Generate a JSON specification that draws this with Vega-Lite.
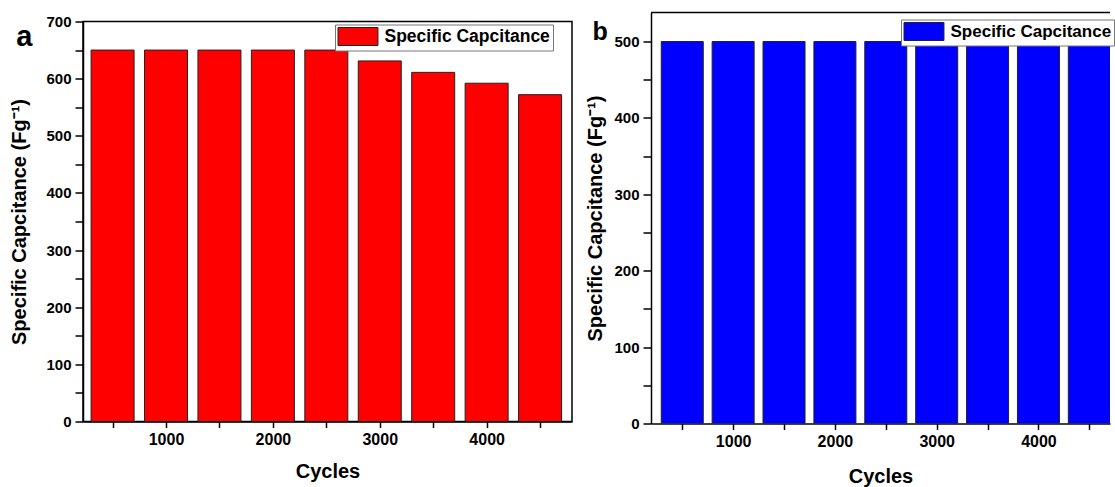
{
  "$schema": "https://vega.github.io/schema/vega-lite/v6.json",
  "background": "white",
  "padding": {"left": 9, "top": 11.5, "right": 0, "bottom": 0},
  "autosize": {"type": "pad"},
  "spacing": 12,
  "config": {
    "font": "Liberation Sans",
    "concat": {"spacing": 0},
    "view": {"stroke": "black", "strokeWidth": 1.5},
    "axis": {
      "grid": false,
      "domainColor": "black",
      "domainWidth": 1.5,
      "tickColor": "black",
      "tickWidth": 1.5,
      "labelColor": "black",
      "titleColor": "black",
      "labelFont": "Liberation Sans",
      "titleFont": "Liberation Sans",
      "labelFontWeight": "bold",
      "titleFontWeight": "bold",
      "format": "d"
    },
    "legend": {
      "title": null,
      "symbolType": "M-1,-1H3.44V1H-1Z",
      "symbolSize": 324,
      "symbolStrokeColor": "#222",
      "symbolStrokeWidth": 1,
      "labelOffset": 28,
      "labelLimit": 300,
      "labelFont": "Liberation Sans",
      "labelFontWeight": "bold",
      "labelColor": "black",
      "padding": 2.5,
      "strokeColor": "#777",
      "fillColor": "white"
    }
  },
  "datasets": {
    "a": [
      {"cycles": 500, "capacitance": 650, "series": "Specific Capcitance"},
      {"cycles": 1000, "capacitance": 650, "series": "Specific Capcitance"},
      {"cycles": 1500, "capacitance": 650, "series": "Specific Capcitance"},
      {"cycles": 2000, "capacitance": 650, "series": "Specific Capcitance"},
      {"cycles": 2500, "capacitance": 650, "series": "Specific Capcitance"},
      {"cycles": 3000, "capacitance": 631, "series": "Specific Capcitance"},
      {"cycles": 3500, "capacitance": 611, "series": "Specific Capcitance"},
      {"cycles": 4000, "capacitance": 592, "series": "Specific Capcitance"},
      {"cycles": 4500, "capacitance": 572, "series": "Specific Capcitance"}
    ],
    "b": [
      {"cycles": 500, "capacitance": 500, "series": "Specific Capcitance"},
      {"cycles": 1000, "capacitance": 500, "series": "Specific Capcitance"},
      {"cycles": 1500, "capacitance": 500, "series": "Specific Capcitance"},
      {"cycles": 2000, "capacitance": 500, "series": "Specific Capcitance"},
      {"cycles": 2500, "capacitance": 500, "series": "Specific Capcitance"},
      {"cycles": 3000, "capacitance": 499, "series": "Specific Capcitance"},
      {"cycles": 3500, "capacitance": 497, "series": "Specific Capcitance"},
      {"cycles": 4000, "capacitance": 496, "series": "Specific Capcitance"},
      {"cycles": 4500, "capacitance": 495, "series": "Specific Capcitance"}
    ],
    "panel": [{"label": "panel"}]
  },
  "hconcat": [
    {
      "spacing": 0,
      "resolve": {"scale": {"color": "independent"}, "legend": {"color": "independent"}},
      "vconcat": [
        {
          "width": 489,
          "height": 1,
          "data": {"values": []},
          "mark": {"type": "rule", "opacity": 0},
          "encoding": {},
          "view": {"stroke": null}
        },
        {
          "width": 489,
          "height": 400,
          "layer": [
            {
              "data": {"name": "a"},
              "mark": {"type": "bar", "width": 43, "stroke": "#222", "strokeWidth": 1},
              "encoding": {
                "x": {
                  "field": "cycles", "type": "quantitative",
                  "scale": {"domain": [270, 4752], "nice": false, "zero": false},
                  "axis": {
                    "title": "Cycles",
                    "values": [500, 1000, 1500, 2000, 2500, 3000, 3500, 4000, 4500],
                    "labelExpr": "datum.value % 1000 === 0 ? datum.label : ''",
                    "tickSize": 6,
                    "labelFontSize": 16,
                    "labelPadding": 4,
                    "titleFontSize": 20,
                    "titlePadding": 14
                  }
                },
                "y": {
                  "field": "capacitance", "type": "quantitative",
                  "scale": {"domain": [0, 700], "nice": false},
                  "axis": {
                    "title": "Specific Capcitance (Fg⁻¹)",
                    "values": [0, 50, 100, 150, 200, 250, 300, 350, 400, 450, 500, 550, 600, 650, 700],
                    "labelExpr": "datum.value % 100 === 0 ? datum.label : ''",
                    "tickSize": 8,
                    "labelFontSize": 15,
                    "labelPadding": 4,
                    "titleFontSize": 20,
                    "titlePadding": 16,
                    "encode": {"ticks": {"update": {"x2": {"signal": "datum.value % 100 === 0 ? -8 : -4"}}}}
                  }
                },
                "color": {
                  "field": "series", "type": "nominal",
                  "scale": {"range": ["#ff0000"]},
                  "legend": {"orient": "none", "legendX": 252, "legendY": 3, "labelFontSize": 17.5}
                }
              }
            },
            {
              "data": {"name": "panel"},
              "mark": {"type": "text", "fontSize": 29, "fontWeight": "bold", "color": "black", "font": "Liberation Sans", "baseline": "alphabetic", "align": "center"},
              "encoding": {
                "x": {
                  "datum": -325, "type": "quantitative",
                  "scale": {"domain": [270, 4752], "nice": false, "zero": false},
                  "axis": {
                    "title": "Cycles",
                    "values": [500, 1000, 1500, 2000, 2500, 3000, 3500, 4000, 4500],
                    "labelExpr": "datum.value % 1000 === 0 ? datum.label : ''",
                    "tickSize": 6,
                    "labelFontSize": 16,
                    "labelPadding": 4,
                    "titleFontSize": 20,
                    "titlePadding": 14
                  }
                },
                "y": {
                  "datum": 658, "type": "quantitative",
                  "scale": {"domain": [0, 700], "nice": false},
                  "axis": {
                    "title": "Specific Capcitance (Fg⁻¹)",
                    "values": [0, 50, 100, 150, 200, 250, 300, 350, 400, 450, 500, 550, 600, 650, 700],
                    "labelExpr": "datum.value % 100 === 0 ? datum.label : ''",
                    "tickSize": 8,
                    "labelFontSize": 15,
                    "labelPadding": 4,
                    "titleFontSize": 20,
                    "titlePadding": 16,
                    "encode": {"ticks": {"update": {"x2": {"signal": "datum.value % 100 === 0 ? -8 : -4"}}}}
                  }
                },
                "text": {"value": "a"}
              }
            }
          ]
        }
      ]
    },
    {
      "width": 459,
      "height": 411,
      "view": {"stroke": null},
      "layer": [
        {
          "data": {"name": "b"},
          "mark": {"type": "bar", "width": 42, "stroke": "#222", "strokeWidth": 1, "clip": true},
          "encoding": {
            "x": {
              "field": "cycles", "type": "quantitative",
              "scale": {"domain": [242, 4654], "nice": false, "zero": false},
              "axis": {
                "title": "Cycles",
                "values": [500, 1000, 1500, 2000, 2500, 3000, 3500, 4000, 4500],
                "labelExpr": "datum.value % 1000 === 0 ? datum.label : ''",
                "tickSize": 6,
                "labelFontSize": 16,
                "labelPadding": 4,
                "titleFontSize": 20,
                "titlePadding": 17
              }
            },
            "y": {
              "field": "capacitance", "type": "quantitative",
              "scale": {"domain": [0, 538], "nice": false},
              "axis": {
                "title": "Specific Capcitance (Fg⁻¹)",
                "values": [0, 50, 100, 150, 200, 250, 300, 350, 400, 450, 500],
                "labelExpr": "datum.value % 100 === 0 ? datum.label : ''",
                "tickSize": 8,
                "labelFontSize": 15,
                "labelPadding": 4,
                "titleFontSize": 20,
                "titlePadding": 8,
                "encode": {"ticks": {"update": {"x2": {"signal": "datum.value % 100 === 0 ? -8 : -4"}}}}
              }
            },
            "color": {
              "field": "series", "type": "nominal",
              "scale": {"range": ["#0000ff"]},
              "legend": {"orient": "none", "legendX": 250, "legendY": 7, "labelFontSize": 17}
            }
          }
        },
        {
          "data": {"name": "panel"},
          "mark": {"type": "rule", "color": "black", "strokeWidth": 1.5},
          "encoding": {
            "y": {
              "datum": 538, "type": "quantitative",
              "scale": {"domain": [0, 538], "nice": false},
              "axis": {
                "title": "Specific Capcitance (Fg⁻¹)",
                "values": [0, 50, 100, 150, 200, 250, 300, 350, 400, 450, 500],
                "labelExpr": "datum.value % 100 === 0 ? datum.label : ''",
                "tickSize": 8,
                "labelFontSize": 15,
                "labelPadding": 4,
                "titleFontSize": 20,
                "titlePadding": 8,
                "encode": {"ticks": {"update": {"x2": {"signal": "datum.value % 100 === 0 ? -8 : -4"}}}}
              }
            }
          }
        },
        {
          "data": {"name": "panel"},
          "mark": {"type": "text", "fontSize": 25, "fontWeight": "bold", "color": "black", "font": "Liberation Sans", "baseline": "alphabetic", "align": "center"},
          "encoding": {
            "x": {
              "datum": -306, "type": "quantitative",
              "scale": {"domain": [242, 4654], "nice": false, "zero": false},
              "axis": {
                "title": "Cycles",
                "values": [500, 1000, 1500, 2000, 2500, 3000, 3500, 4000, 4500],
                "labelExpr": "datum.value % 1000 === 0 ? datum.label : ''",
                "tickSize": 6,
                "labelFontSize": 16,
                "labelPadding": 4,
                "titleFontSize": 20,
                "titlePadding": 17
              }
            },
            "y": {
              "datum": 502, "type": "quantitative",
              "scale": {"domain": [0, 538], "nice": false},
              "axis": {
                "title": "Specific Capcitance (Fg⁻¹)",
                "values": [0, 50, 100, 150, 200, 250, 300, 350, 400, 450, 500],
                "labelExpr": "datum.value % 100 === 0 ? datum.label : ''",
                "tickSize": 8,
                "labelFontSize": 15,
                "labelPadding": 4,
                "titleFontSize": 20,
                "titlePadding": 8,
                "encode": {"ticks": {"update": {"x2": {"signal": "datum.value % 100 === 0 ? -8 : -4"}}}}
              }
            },
            "text": {"value": "b"}
          }
        }
      ]
    }
  ],
  "resolve": {"scale": {"color": "independent"}, "legend": {"color": "independent"}}
}
